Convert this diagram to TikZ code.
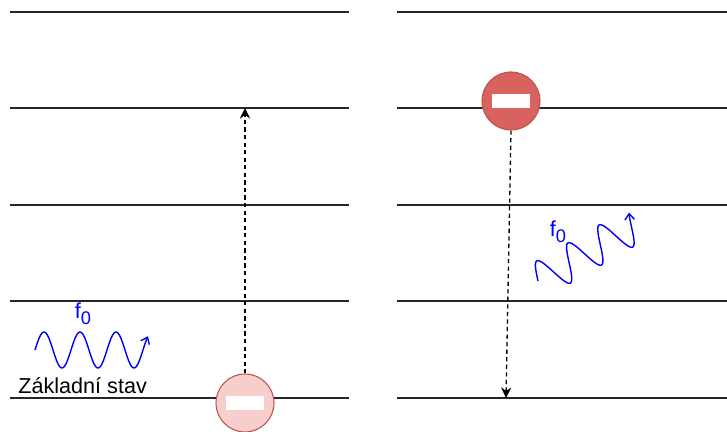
\documentclass[tikz,border=0pt]{standalone}
\usepackage{fontspec}
\setmainfont{Liberation Sans}
\usepackage{xcolor}
\usepackage{tikz}
\usetikzlibrary{arrows.meta, positioning}
\definecolor{palered}{HTML}{F8CECC}
\definecolor{darkred}{HTML}{D9625F}
\definecolor{rededge}{HTML}{B85450}

\newcommand{\freqlabel}{f\raisebox{-0.28em}{\fontsize{10.4}{12}\selectfont 0}}

\tikzset{
  level/.style={line width=0.75pt, black!85},
  jump/.style={->, line width=0.75pt, dash pattern=on 2.4pt off 1.9pt},
  wave/.style={-{Straight Barb[length=3.4pt,width=5.4pt]}, blue, line width=0.8pt},
  electron/.style={circle, draw=rededge, line width=0.6pt, minimum size=1.16cm, inner sep=0pt},
  minusbar/.style={fill=white, minimum width=0.76cm, minimum height=0.27cm, inner sep=0pt},
  lbl/.style={font=\fontsize{12.3}{14}\selectfont, inner sep=0pt},
}

\begin{document}
\begin{tikzpicture}[>={Stealth[length=6pt,width=5.8pt]}]
  \useasboundingbox (0,0) rectangle (14.54,8.64);
  % Energy levels
  \foreach \y in {0.68,2.62,4.54,6.48,8.4} {
    \draw[level] (0.2,\y) -- (6.98,\y);
    \draw[level] (7.94,\y) -- (14.54,\y);
  }
  % Left part: ground state and absorption
  \node[electron, fill=palered] (lower) at (4.9,0.58) {};
  \node[minusbar] (lowerbar) at (4.9,0.58) {};
  \coordinate (uppertip) at (4.9,6.48);
  \draw[jump] (lower.north) -- (uppertip);
  \node[lbl, anchor=base west] (ground) at (0.36,0.76) {Základní stav};
  \node[lbl, text=blue] (fleft) at (1.66,2.36) {\freqlabel};
  % Wave going right
  \draw[wave, shift={(0.7,1.64)}]
    plot[domain=0:2.26, samples=90, smooth] (\x, {0.36*sin(\x*500)});
  % Right part: excited state and emission
  \node[electron, fill=darkred] (upper) at (10.22,6.62) {};
  \node[minusbar] (upperbar) at (10.22,6.62) {};
  \coordinate (lowertip) at (10.12,0.68);
  \draw[jump] (upper.south) -- (lowertip);
  \node[lbl, text=blue] (fright) at (11.16,4.01) {\freqlabel};
  % Same wave, turned upwards
  \draw[wave, shift={(10.76,3.02)}, rotate=30]
    plot[domain=0:2.26, samples=90, smooth] (\x, {0.36*sin(\x*500)});
\end{tikzpicture}
\end{document}
